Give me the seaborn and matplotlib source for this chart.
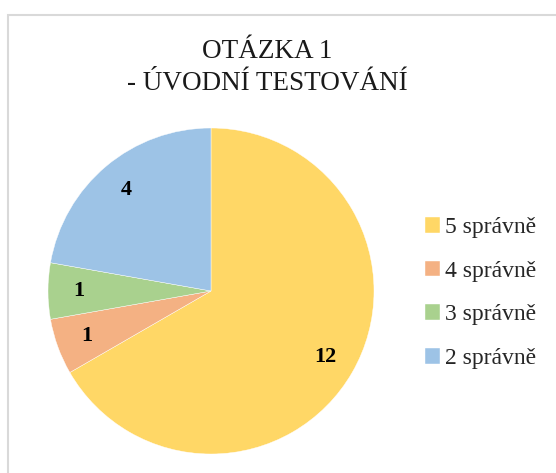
import matplotlib
matplotlib.use("Agg")
import matplotlib.pyplot as plt
import seaborn as sns
from matplotlib.patches import Rectangle

categories = ["5 správně", "4 správně", "3 správně", "2 správně"]
values = [12, 1, 1, 4]
colors = ["#FFD766", "#F4B183", "#A9D18E", "#9DC3E6"]
title_lines = ["OTÁZKA 1", "- ÚVODNÍ TESTOVÁNÍ"]

sns.set_theme(style="white")
plt.rcParams['font.family'] = ['Liberation Serif', 'DejaVu Serif']

fig = plt.figure(figsize=(5.56, 4.73), dpi=100)
fig.patch.set_facecolor("white")

# chart border (light gray, extends beyond right/bottom)
fig.patches.append(Rectangle((7.5 / 556, -0.2), 1.2, (473 - 14.5) / 473 + 0.2,
                             transform=fig.transFigure, fill=False,
                             edgecolor="#D9D9D9", linewidth=1.5))

ax = fig.add_axes([48 / 556, 19 / 473, 326 / 556, 326 / 473])
wedges, texts = ax.pie(values, colors=colors, startangle=90, counterclock=False,
                       labels=[str(v) for v in values], labeldistance=0.81,
                       wedgeprops=dict(edgecolor="white", linewidth=0.3),
                       textprops=dict(fontsize=16, fontweight="bold", color="black",
                                      ha="center", va="center"))
ax.set_xlim(-1, 1)
ax.set_ylim(-1, 1)
ax.set_aspect("equal")
ax.axis("off")

fig.text(267 / 556, 1 - 51 / 473, title_lines[0], ha="center", va="center",
         fontsize=19.5, color="#1a1a1a")
fig.text(267 / 556, 1 - 83 / 473, title_lines[1], ha="center", va="center",
         fontsize=19.5, color="#1a1a1a")

leg = fig.legend(wedges, categories, loc="upper left",
                 bbox_to_anchor=(425 / 556, 1 - 217 / 473), frameon=False,
                 fontsize=17, handlelength=0.65, handleheight=0.65,
                 handletextpad=0.2, labelspacing=0.95, borderpad=0, borderaxespad=0)

fig.savefig("out.png", dpi=100, facecolor="white")
